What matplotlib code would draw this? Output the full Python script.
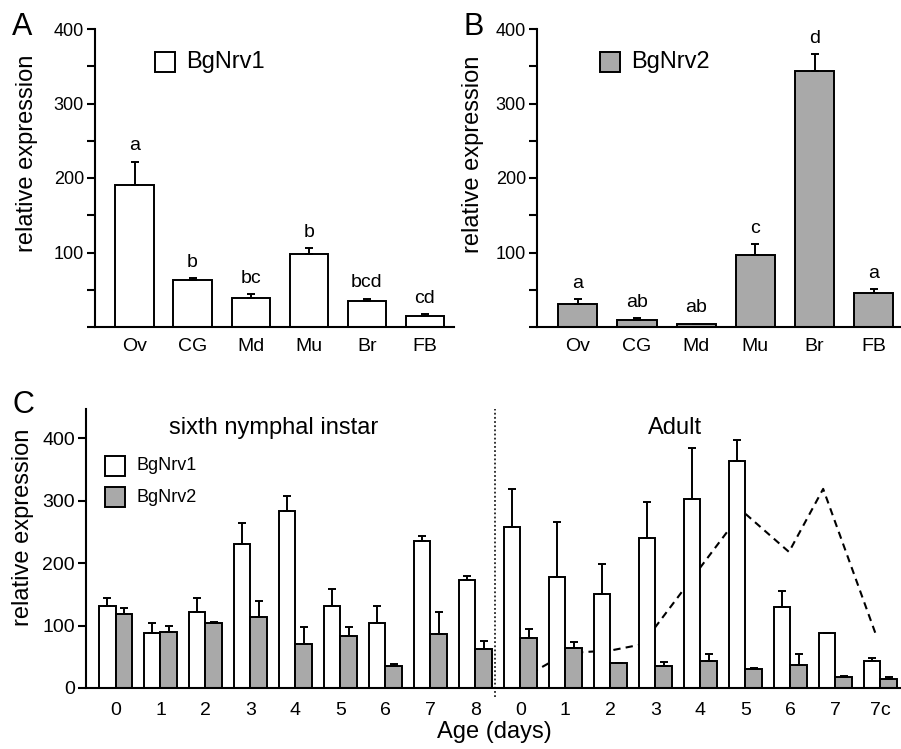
import numpy as np
import matplotlib
matplotlib.use("Agg")
import matplotlib.pyplot as plt
from matplotlib.patches import Rectangle

plt.rcParams['font.family'] = ['Liberation Sans', 'DejaVu Sans']

# Panel A / B : tissues
tissues = ['Ov', 'CG', 'Md', 'Mu', 'Br', 'FB']
nrv1_tissue = [191, 63, 39, 98, 35, 15]
nrv1_tissue_err = [31, 2.3, 5, 7.6, 2.7, 2.2]
nrv1_letters = ['a', 'b', 'bc', 'b', 'bcd', 'cd']

nrv2_tissue = [31, 9.4, 4, 96.6, 343.6, 45.2]
nrv2_tissue_err = [6.6, 2.3, 0.5, 14.4, 22.8, 5.4]
nrv2_letters = ['a', 'ab', 'ab', 'c', 'd', 'a']

# Panel C : age series (sixth nymphal instar days 0-8, adult days 0-7, 7c)
ages = ['0', '1', '2', '3', '4', '5', '6', '7', '8',
        '0', '1', '2', '3', '4', '5', '6', '7', '7c']
nrv1_age = [132, 88, 122, 231, 283, 132, 104, 236, 173,
            257.6, 177.6, 150, 240, 303.5, 363.7, 129.6, 88.5, 43.7]
nrv1_age_err = [12.5, 16.5, 22.5, 33.5, 24.7, 26, 28, 7, 6,
                62, 88, 49, 57.6, 81.5, 33, 25.4, 0, 4.8]
nrv2_age = [119, 89, 104, 114, 71, 83, 36, 86, 63,
            79.5, 63.5, 40, 35.7, 43.7, 31, 36.8, 17.6, 14]
nrv2_age_err = [9, 11, 2, 24.7, 27, 14, 3, 35.6, 13,
                14.5, 10, 0.5, 6, 11.3, 1, 18, 2.4, 3.6]

# dashed curve in the adult part
curve_x = [9.0, 10.03, 11.0, 11.71, 13.94, 14.97, 15.73, 16.89]
curve_y = [14, 56, 60, 70, 283, 218, 319, 88]

grey = '#a9a9a9'
edge_lw = 1.4
W, H = 901, 749

fig = plt.figure(figsize=(9.01, 7.49), dpi=100)


def fbox(left, top, right, bottom):
    # pixel box -> figure fraction [l, b, w, h]
    return [left / W, 1 - bottom / H, (right - left) / W, (bottom - top) / H]


def fx(x, y):
    return x / W, 1 - y / H


def style_axes(ax, ysize=13):
    for s in ['top', 'right']:
        ax.spines[s].set_visible(False)
    for s in ['left', 'bottom']:
        ax.spines[s].set_linewidth(1.5)
    ax.tick_params(axis='y', which='both', direction='out', length=6, width=1.5,
                   labelsize=ysize, pad=2)
    ax.tick_params(axis='x', length=0, labelsize=14)


def tissue_panel(ax, vals, errs, letters, color, xlim):
    x = np.arange(len(tissues))
    ax.bar(x, vals, width=0.66, color=color, edgecolor='black', linewidth=edge_lw, zorder=2)
    ax.errorbar(x, vals, yerr=[np.zeros(len(vals)), errs], fmt='none', ecolor='black',
                elinewidth=1.4, capsize=2.6, capthick=1.4, zorder=3)
    for xi, v, e, t in zip(x, vals, errs, letters):
        ax.text(xi, v + e + 10, t, ha='center', va='bottom', fontsize=14)
    ax.set_xlim(xlim)
    ax.set_ylim(0, 400)
    ax.set_xticks(x, tissues)
    ax.set_yticks([0, 50, 100, 150, 200, 250, 300, 350, 400],
                  ['', '', '100', '', '200', '', '300', '', '400'])
    style_axes(ax)
    ax.tick_params(axis='x', pad=8)
    ax.set_ylabel('relative expression', fontsize=17, va='center')


# ---- A
axA = fig.add_axes(fbox(95, 29, 454, 327))
tissue_panel(axA, nrv1_tissue, nrv1_tissue_err, nrv1_letters, 'white', (-0.68, 5.5))
axA.yaxis.set_label_coords((27 - 95) / 359, (327 - 153) / 298)

# ---- B
axB = fig.add_axes(fbox(537, 29, 901, 327))
tissue_panel(axB, nrv2_tissue, nrv2_tissue_err, nrv2_letters, grey, (-0.69, 5.46))
axB.yaxis.set_label_coords((473 - 537) / 364, (327 - 154) / 298)

# ---- C
axC = fig.add_axes(fbox(86, 409, 901, 688))
pos = np.arange(len(ages))
bw = 0.367
axC.plot(curve_x, curve_y, color='black', lw=1.5, dashes=(3.5, 2.5), zorder=1)
axC.bar(pos - bw / 2, nrv1_age, width=bw, color='white', edgecolor='black',
        linewidth=edge_lw, zorder=2)
axC.bar(pos + bw / 2, nrv2_age, width=bw, color=grey, edgecolor='black',
        linewidth=edge_lw, zorder=2)
axC.errorbar(pos - bw / 2, nrv1_age, yerr=[np.zeros(len(ages)), nrv1_age_err], fmt='none',
             ecolor='black', elinewidth=1.4, capsize=2.6, capthick=1.4, zorder=3)
axC.errorbar(pos + bw / 2, nrv2_age, yerr=[np.zeros(len(ages)), nrv2_age_err], fmt='none',
             ecolor='black', elinewidth=1.4, capsize=2.6, capthick=1.4, zorder=3)
axC.plot([8.44, 8.44], [-15, 447], color='#222222', lw=1.3, ls=(0, (1, 1.3)),
         clip_on=False, zorder=1)
axC.set_xlim(-0.656, 17.46)
axC.set_ylim(0, 447)
axC.set_xticks(pos, ages)
axC.set_yticks([0, 100, 200, 300, 400])
style_axes(axC, ysize=14)
axC.tick_params(axis='x', pad=10)
axC.set_ylabel('relative expression', fontsize=17, va='center')
axC.yaxis.set_label_coords((22.5 - 86) / 815, (688 - 527.5) / 279)
axC.set_xlabel('Age (days)', fontsize=17, va='center')
axC.xaxis.set_label_coords((494 - 86) / 815, (688 - 732) / 279)
axC.text(3.52, 417, 'sixth nymphal instar', ha='center', va='center', fontsize=17)
axC.text(12.43, 417, 'Adult', ha='center', va='center', fontsize=17)

# legends drawn as boxes + text
def legend_box(left, top, size, color, label, fs):
    x0, y0 = fx(left, top + size)
    fig.add_artist(Rectangle((x0, y0), size / W, size / H, transform=fig.transFigure,
                             facecolor=color, edgecolor='black', linewidth=1.4))
    tx, ty = fx(left + size + 11, top + size / 2)
    fig.text(tx, ty, label, ha='left', va='center', fontsize=fs)


legend_box(155, 52, 20, 'white', 'BgNrv1', 17)
legend_box(600, 52, 20, grey, 'BgNrv2', 17)
legend_box(105, 456, 20, 'white', 'BgNrv1', 13)
legend_box(105, 487, 20, grey, 'BgNrv2', 13)

# panel letters
for letter, (lx, ly) in [('A', (12, 35)), ('B', (464, 35)), ('C', (12, 413))]:
    x0, y0 = fx(lx, ly)
    fig.text(x0, y0, letter, ha='left', va='baseline', fontsize=22)

fig.savefig('out.png', dpi=100)
